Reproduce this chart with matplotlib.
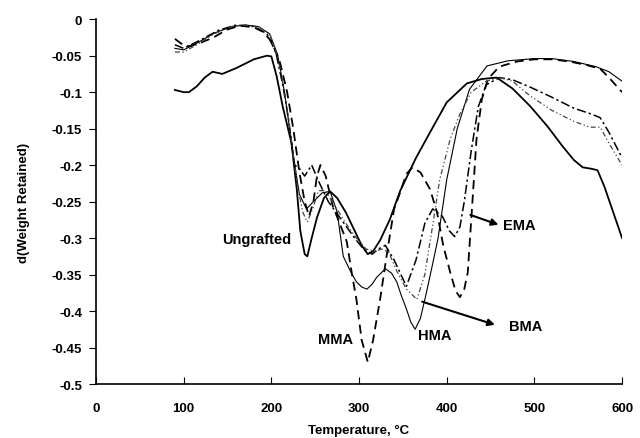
import matplotlib
matplotlib.use("Agg")
import matplotlib.pyplot as plt

plt.rcParams['font.family'] = ['Liberation Sans', 'DejaVu Sans']
plt.rcParams['font.weight'] = 'bold'
plt.rcParams['axes.unicode_minus'] = False

# Ungrafted (solid)
ung_t = [90, 100, 106, 115, 124, 133, 144, 160, 180, 195, 200, 206, 213, 223, 229, 233, 238, 241, 246,
         252, 260, 267, 275, 285, 295, 303, 310, 316, 324, 335, 347, 365, 381, 400, 423, 440, 457,
         475, 495, 515, 532, 545, 555, 565, 572, 580, 590, 600]
ung_y = [-0.097, -0.1, -0.1, -0.092, -0.08, -0.072, -0.075, -0.067, -0.055, -0.05, -0.051, -0.078,
         -0.12, -0.17, -0.233, -0.29, -0.322, -0.325, -0.3, -0.272, -0.245, -0.236, -0.245, -0.265,
         -0.29, -0.31, -0.322, -0.318, -0.303, -0.275, -0.235, -0.19, -0.155, -0.114, -0.088, -0.082,
         -0.08, -0.095, -0.119, -0.147, -0.174, -0.193, -0.203, -0.205, -0.207, -0.23, -0.265, -0.3]

# MMA (dashed)
mma_t = [90, 100, 107, 120, 134, 150, 164, 180, 190, 200, 210, 218, 225, 232, 238, 243, 248, 252,
         256, 262, 270, 278, 286, 292, 297, 303, 310, 316, 324, 332, 340, 347, 354, 361, 370, 381,
         389, 396, 404, 410, 415, 420, 424, 429, 434, 440, 447, 460, 480, 500, 520, 540, 560, 575,
         585, 600]
mma_y = [-0.027, -0.036, -0.037, -0.032, -0.025, -0.014, -0.009, -0.011, -0.017, -0.03, -0.06, -0.1,
         -0.15, -0.21, -0.25, -0.27, -0.25, -0.215, -0.2, -0.215, -0.256, -0.28, -0.305, -0.35, -0.384,
         -0.44, -0.47, -0.44, -0.384, -0.32, -0.26, -0.237, -0.212, -0.203, -0.21, -0.233, -0.265,
         -0.31, -0.347, -0.372, -0.381, -0.37, -0.347, -0.256, -0.164, -0.11, -0.082, -0.065, -0.058,
         -0.055, -0.055, -0.058, -0.063, -0.068, -0.08, -0.1]

# HMA (thin solid)
hma_t = [90, 100, 115, 135, 155, 170, 185, 198, 207, 215, 222, 228, 232, 240, 248, 258, 267, 275,
         282, 290, 297, 303, 309, 315, 320, 330, 337, 343, 348, 354, 359, 364, 370, 377, 384, 390,
         400, 412, 426, 446, 470, 500, 520, 545, 570, 585, 600]
hma_y = [-0.04, -0.042, -0.033, -0.019, -0.01, -0.008, -0.01, -0.02, -0.048, -0.1, -0.16, -0.21,
         -0.24, -0.26, -0.25, -0.238, -0.236, -0.264, -0.325, -0.345, -0.36, -0.367, -0.37, -0.363,
         -0.354, -0.342, -0.348, -0.36, -0.378, -0.397, -0.415, -0.425, -0.41, -0.374, -0.335, -0.301,
         -0.22, -0.15, -0.096, -0.064, -0.057, -0.054, -0.054, -0.058, -0.065, -0.072, -0.085]

# EMA (dash-dot)
ema_t = [90, 100, 120, 140, 160, 180, 195, 205, 213, 220, 226, 231, 238, 246, 255, 265, 280, 295,
         305, 315, 322, 330, 340, 354, 365, 375, 384, 395, 403, 409, 415, 420, 428, 436, 445, 460,
         475, 495, 520, 545, 565, 575, 585, 600]
ema_y = [-0.035, -0.04, -0.028, -0.015, -0.008, -0.01, -0.02, -0.045, -0.09, -0.14, -0.2, -0.203,
         -0.215, -0.2, -0.225, -0.25, -0.275, -0.3, -0.315, -0.322, -0.315, -0.31, -0.33, -0.366,
         -0.33, -0.28, -0.26, -0.27, -0.29, -0.298, -0.285, -0.25, -0.18, -0.12, -0.09, -0.08,
         -0.083, -0.093, -0.107, -0.122, -0.13, -0.135, -0.155, -0.19]

# BMA (dash-dot-dot)
bma_t = [90, 100, 115, 135, 155, 170, 185, 198, 207, 215, 222, 230, 236, 241, 247, 254, 262, 272,
         285, 297, 308, 318, 326, 334, 343, 354, 366, 375, 383, 392, 404, 415, 428, 445, 460, 475,
         495, 520, 545, 563, 575, 585, 600]
bma_y = [-0.045, -0.045, -0.035, -0.02, -0.01, -0.008, -0.01, -0.02, -0.05, -0.1, -0.16, -0.23,
         -0.265, -0.278, -0.26, -0.235, -0.235, -0.255, -0.28, -0.3, -0.315, -0.318, -0.315, -0.32,
         -0.345, -0.37, -0.384, -0.35, -0.29, -0.22, -0.164, -0.13, -0.1, -0.085, -0.08, -0.085,
         -0.105, -0.125, -0.14, -0.148, -0.148, -0.17, -0.2]

fig = plt.figure(figsize=(6.4, 4.39), dpi=100)
ax = fig.add_axes([0.15, 0.123, 0.822, 0.831])

ax.plot(ung_t, ung_y, color='black', lw=1.3)
ax.plot(mma_t, mma_y, color='black', lw=1.3, dashes=(5, 3))
ax.plot(hma_t, hma_y, color='black', lw=0.8)
ax.plot(ema_t, ema_y, color='black', lw=1.1, dashes=(6, 2, 1.5, 2))
ax.plot(bma_t, bma_y, color='#444444', lw=0.9, dashes=(4, 2, 1, 2, 1, 2))

ax.set_xlim(0, 600)
ax.set_ylim(-0.5, 0)
ax.set_xticks(range(0, 601, 100))
ax.set_yticks([0, -0.05, -0.1, -0.15, -0.2, -0.25, -0.3, -0.35, -0.4, -0.45, -0.5])
ax.set_yticklabels(['0', '-0.05', '-0.1', '-0.15', '-0.2', '-0.25', '-0.3', '-0.35', '-0.4',
                    '-0.45', '-0.5'])
ax.tick_params(axis='x', direction='in', length=5, labelsize=9.5, pad=13)
ax.tick_params(axis='y', direction='out', length=5, labelsize=9.5, pad=5)
for lab in ax.get_xticklabels() + ax.get_yticklabels():
    lab.set_fontweight('bold')
ax.spines['top'].set_visible(False)
ax.spines['right'].set_visible(False)
ax.spines['left'].set_linewidth(1.2)
ax.spines['bottom'].set_linewidth(1.2)

ax.set_xlabel('Temperature, °C', fontsize=9.5, fontweight='bold', labelpad=7)
ax.set_ylabel('d(Weight Retained)', fontsize=9.5, fontweight='bold', labelpad=16)

ax.text(183, -0.301, 'Ungrafted', fontsize=10.5, fontweight='bold', ha='center', va='center')
ax.text(273, -0.438, 'MMA', fontsize=10.5, fontweight='bold', ha='center', va='center')
ax.text(386, -0.433, 'HMA', fontsize=10.5, fontweight='bold', ha='center', va='center')
ax.text(483, -0.282, 'EMA', fontsize=10.5, fontweight='bold', ha='center', va='center')
ax.text(490, -0.42, 'BMA', fontsize=10.5, fontweight='bold', ha='center', va='center')
ax.annotate('', xy=(462, -0.283), xytext=(424, -0.267),
            arrowprops=dict(arrowstyle='-|>', color='black', lw=1.5, mutation_scale=10))
ax.annotate('', xy=(458, -0.42), xytext=(369, -0.386),
            arrowprops=dict(arrowstyle='-|>', color='black', lw=1.5, mutation_scale=10))

fig.savefig('out.png', dpi=100)
